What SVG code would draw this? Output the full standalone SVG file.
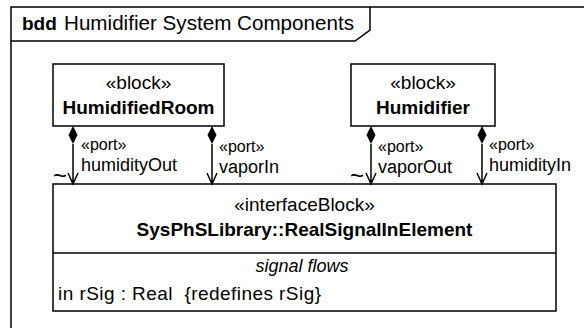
<svg xmlns="http://www.w3.org/2000/svg" width="584" height="328" viewBox="0 0 584 328">
<style>
text{font-family:"Liberation Sans",Arial,sans-serif;font-size:19px;fill:#000}
.b{font-weight:bold}
.i{font-style:italic}
.c{text-anchor:middle}
.s{font-size:16px}
.n{font-size:18px}
.t{font-size:24px}
.box{fill:#fff;stroke:#000;stroke-width:1.5}
.ln{fill:none;stroke:#000;stroke-width:1.5}
.dm{fill:#000}
</style>
<g id="frame">
<rect x="11" y="7" width="640" height="400" class="ln"/>
<path d="M11,41 H355 L370,30 V7" class="ln"/>
<text x="22" y="30" class="b">bdd</text>
<text x="64" y="30" style="font-size:20px" textLength="290" lengthAdjust="spacingAndGlyphs">Humidifier System Components</text>
</g>
<g id="HumidifiedRoom">
<rect x="53" y="64" width="171" height="62" class="box"/>
<text x="138.5" y="89" class="c">«block»</text>
<text x="138.5" y="114" class="c b">HumidifiedRoom</text>
</g>
<g id="Humidifier">
<rect x="351" y="64" width="144" height="62" class="box"/>
<text x="423" y="89" class="c">«block»</text>
<text x="423" y="114" class="c b">Humidifier</text>
</g>
<g id="RealSignalInElement">
<rect x="53" y="184" width="503" height="127" class="box"/>
<line x1="53" y1="253" x2="556" y2="253" class="ln"/>
<text x="304.5" y="211" class="c">«interfaceBlock»</text>
<text x="304.5" y="236" class="c b">SysPhSLibrary::RealSignalInElement</text>
<text x="302" y="272" class="c i" style="font-size:18px">signal flows</text>
<text x="58" y="300" xml:space="preserve" textLength="263" lengthAdjust="spacing">in rSig : Real  {redefines rSig}</text>
</g>
<g id="connectors">
<g id="c1">
<path d="M73,126 L77.5,135 L73,144 L68.5,135 Z" class="dm"/>
<path d="M73,144 V184 M68,173 L73,184 L78,173" class="ln"/>
<text x="53" y="184" class="t">~</text>
<text x="81" y="150" class="s">«port»</text>
<text x="81" y="171" class="n">humidityOut</text>
</g>
<g id="c2">
<path d="M212,126 L216.5,135 L212,144 L207.5,135 Z" class="dm"/>
<path d="M212,144 V184 M207,173 L212,184 L217,173" class="ln"/>
<text x="219" y="152" class="s">«port»</text>
<text x="219" y="173" class="n">vaporIn</text>
</g>
<g id="c3">
<path d="M371,126 L375.5,135 L371,144 L366.5,135 Z" class="dm"/>
<path d="M371,144 V184 M366,173 L371,184 L376,173" class="ln"/>
<text x="350" y="184" class="t">~</text>
<text x="378" y="152" class="s">«port»</text>
<text x="378" y="173" class="n">vaporOut</text>
</g>
<g id="c4">
<path d="M482,126 L486.5,135 L482,144 L477.5,135 Z" class="dm"/>
<path d="M482,144 V184 M477,173 L482,184 L487,173" class="ln"/>
<text x="489" y="150" class="s">«port»</text>
<text x="489" y="171" class="n">humidityIn</text>
</g>
</g>
</svg>
